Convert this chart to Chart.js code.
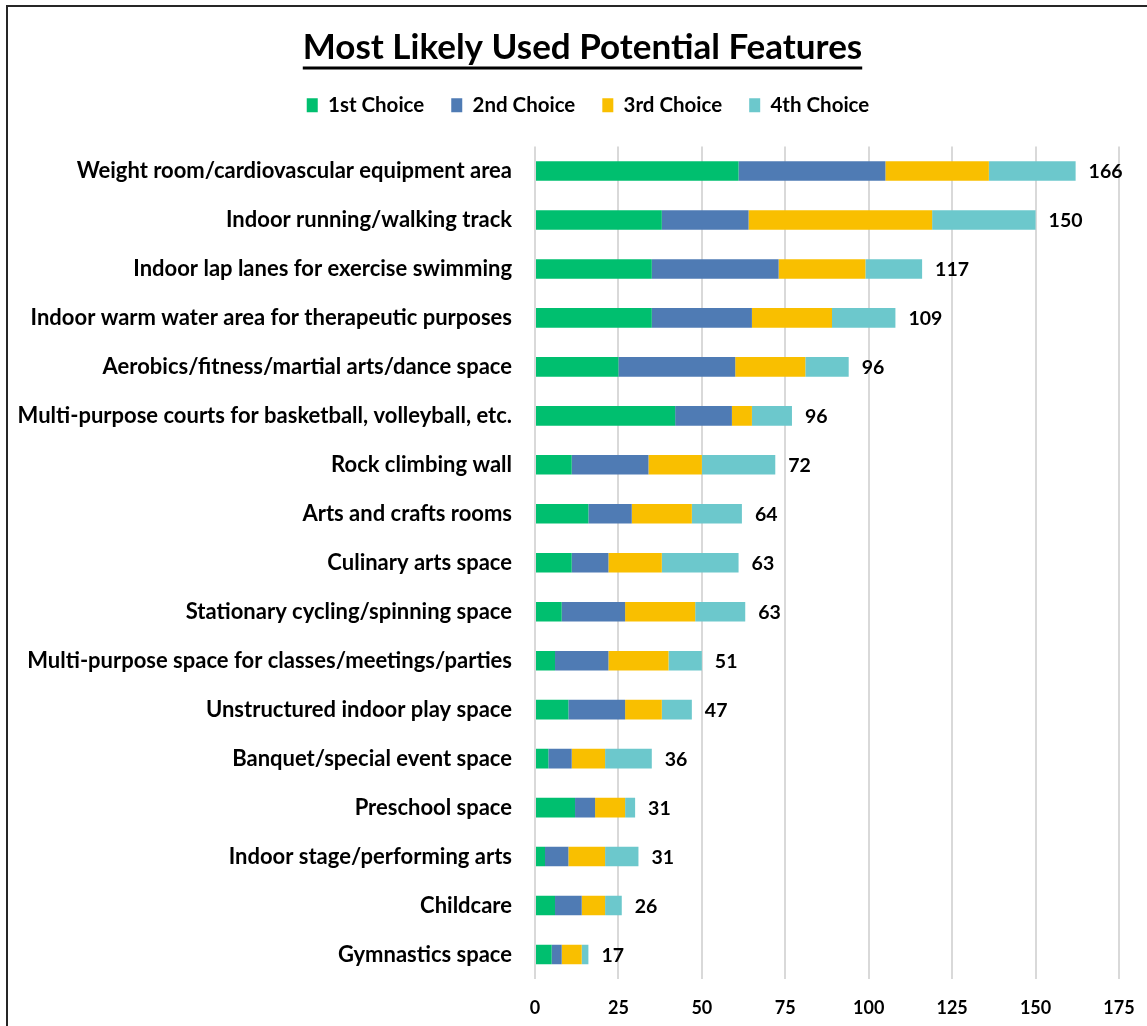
<!DOCTYPE html>
<html>
<head>
<meta charset="utf-8">
<script src="https://cdn.jsdelivr.net/npm/chart.js@4.4.1/dist/chart.umd.min.js"></script>
<style>
  html, body { margin: 0; padding: 0; background: #ffffff; }
  #wrap { position: relative; width: 1147px; height: 1026px; }
  #frame { position: absolute; left: 6px; top: 5px; right: -10px; bottom: -10px;
           border-top: 2px solid #262626; border-left: 2px solid #262626; pointer-events: none; }
  canvas { position: absolute; left: 0; top: 0; }
</style>
</head>
<body>
<div id="wrap">
  <canvas id="chart" width="1147" height="1026"></canvas>
  <div id="frame"></div>
</div>
<script>
// Features, ranked by how often respondents picked them
const categories = [
  'Weight room/cardiovascular equipment area',
  'Indoor running/walking track',
  'Indoor lap lanes for exercise swimming',
  'Indoor warm water area for therapeutic purposes',
  'Aerobics/fitness/martial arts/dance space',
  'Multi-purpose courts for basketball, volleyball, etc.',
  'Rock climbing wall',
  'Arts and crafts rooms',
  'Culinary arts space',
  'Stationary cycling/spinning space',
  'Multi-purpose space for classes/meetings/parties',
  'Unstructured indoor play space',
  'Banquet/special event space',
  'Preschool space',
  'Indoor stage/performing arts',
  'Childcare',
  'Gymnastics space'
];

const firstChoice  = [61, 38, 35, 35, 25, 42, 11, 16, 11,  8,  6, 10,  4, 12,  3, 6, 5];
const secondChoice = [44, 26, 38, 30, 35, 17, 23, 13, 11, 19, 16, 17,  7,  6,  7, 8, 3];
const thirdChoice  = [31, 55, 26, 24, 21,  6, 16, 18, 16, 21, 18, 11, 10,  9, 11, 7, 6];
const fourthChoice = [26, 31, 17, 19, 13, 12, 22, 15, 23, 15, 10,  9, 14,  3, 10, 5, 2];

// Overall counts printed at the end of each bar
const totalLabels  = [166, 150, 117, 109, 96, 96, 72, 64, 63, 63, 51, 47, 36, 31, 31, 26, 17];

const xTicks = [0, 25, 50, 75, 100, 125, 150, 175];

const FONT = 'Lato, "Open Sans", sans-serif';

// Title and legend are centred over the span right of the outer frame
const headerSpan = {
  id: 'headerSpan',
  afterLayout(chart) {
    const right = chart.chartArea.right;
    const t = chart.titleBlock;
    if (t) { t.left = 46; t.right = right; t.width = right - 46; }
    const lg = chart.legend;
    if (lg) { lg.left = 57; lg.right = right; lg.width = right - 57; }
  }
};

// Underline under the chart title
const titleUnderline = {
  id: 'titleUnderline',
  afterDraw(chart) {
    const t = chart.titleBlock;
    if (!t || !t.options.display) return;
    const ctx = chart.ctx;
    const f = t.options.font;
    ctx.save();
    ctx.font = `${f.weight} ${f.size}px ${f.family}`;
    const w = ctx.measureText(t.options.text).width;
    const cx = (t.left + t.right) / 2;
    const y = t.top + t.options.padding.top + f.size * 0.5 + 19;
    ctx.fillStyle = '#000';
    ctx.fillRect(cx - w / 2, y, w, 3);
    ctx.restore();
  }
};

// Count labels to the right of each stacked bar
const endLabels = {
  id: 'endLabels',
  afterDatasetsDraw(chart) {
    const ctx = chart.ctx;
    const last = chart.getDatasetMeta(chart.data.datasets.length - 1);
    ctx.save();
    ctx.font = `bold 19.5px ${FONT}`;
    ctx.fillStyle = '#000';
    ctx.textAlign = 'left';
    ctx.textBaseline = 'middle';
    last.data.forEach((bar, i) => {
      ctx.fillText(String(totalLabels[i]), bar.x + 13, bar.y + 1);
    });
    ctx.restore();
  }
};

new Chart(document.getElementById('chart'), {
  type: 'bar',
  data: {
    labels: categories,
    datasets: [
      { label: '1st Choice', data: firstChoice,  backgroundColor: '#00BF6F' },
      { label: '2nd Choice', data: secondChoice, backgroundColor: '#4F7BB4' },
      { label: '3rd Choice', data: thirdChoice,  backgroundColor: '#F9BF00' },
      { label: '4th Choice', data: fourthChoice, backgroundColor: '#6CC8CC' }
    ]
  },
  options: {
    indexAxis: 'y',
    responsive: false,
    animation: false,
    devicePixelRatio: 1,
    datasets: { bar: { barPercentage: 0.5, categoryPercentage: 0.8 } },
    layout: { padding: { left: 0, right: 28, top: 0, bottom: 0 } },
    plugins: {
      title: {
        display: true,
        text: 'Most Likely Used Potential Features',
        color: '#000',
        font: { family: FONT, size: 35, weight: 'bold', lineHeight: 1 },
        padding: { top: 30, bottom: 3 }
      },
      legend: {
        display: true,
        position: 'top',
        weight: 1000,
        labels: {
          color: '#000',
          font: { family: FONT, size: 20.5, weight: 'bold' },
          boxWidth: 11,
          boxHeight: 14,
          padding: 27
        }
      },
      // empty block that keeps a gap between legend and plot area
      subtitle: {
        display: true,
        text: ' ',
        weight: 500,
        color: 'rgba(0,0,0,0)',
        font: { size: 1, lineHeight: 1 },
        padding: { top: 0, bottom: 20 }
      },
      tooltip: { enabled: false }
    },
    scales: {
      x: {
        stacked: true,
        min: 0,
        max: 175,
        afterBuildTicks(scale) { scale.ticks = xTicks.map(v => ({ value: v })); },
        afterFit(scale) {
          scale.height = 47;
          // the right margin comes from layout.padding alone
          scale.paddingLeft = 0;
          scale.paddingRight = 0;
        },
        grid: { color: '#D9D9D9', lineWidth: 2, drawTicks: false },
        border: { display: false },
        ticks: { color: '#000', font: { family: FONT, size: 18, weight: 'bold' }, padding: 18 }
      },
      y: {
        stacked: true,
        afterFit(scale) { scale.width = 535; },
        grid: { display: false, drawTicks: false },
        border: { display: false },
        ticks: { color: '#000', font: { family: FONT, size: 22, weight: 'bold' }, padding: 23, autoSkip: false }
      }
    }
  },
  plugins: [headerSpan, titleUnderline, endLabels]
});
</script>
</body>
</html>
